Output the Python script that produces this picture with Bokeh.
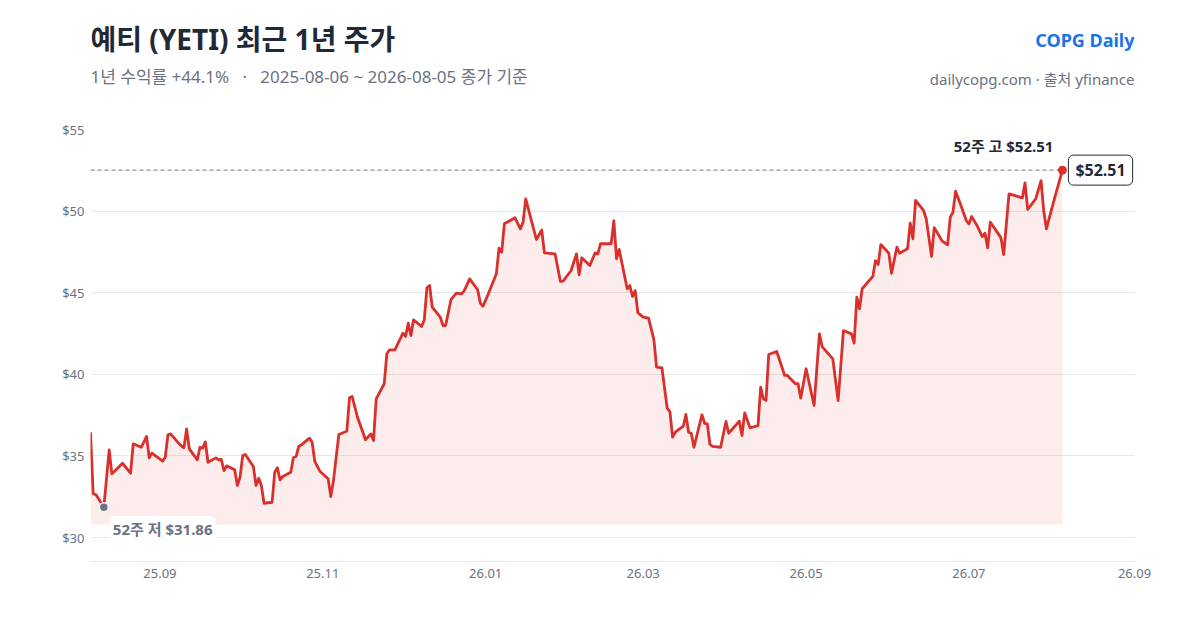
import datetime as dt
import numpy as np
from bokeh.plotting import figure
from bokeh.layouts import column
from bokeh.models import (Label, FixedTicker, DatetimeTickFormatter, Range1d,
                          ColumnDataSource, NumeralTickFormatter)
from bokeh.core.properties import value
from bokeh.embed import file_html
from bokeh.resources import INLINE

# ---------------- data ----------------
START = dt.datetime(2025, 8, 6)
day_offsets = [
    0, 1, 2, 5, 7, 8, 9, 12, 14, 15, 16, 19, 21, 22, 23, 27, 28, 29, 30, 33,
    34, 35, 36, 37, 40, 41, 42, 43, 44, 47, 48, 49, 50, 51, 54, 55, 56, 57, 58, 61,
    62, 63, 64, 65, 68, 69, 70, 71, 72, 75, 76, 77, 78, 79, 82, 83, 84, 86, 89, 90,
    91, 93, 96, 97, 98, 100, 103, 105, 106, 107, 110, 111, 112, 114, 117, 118, 119, 120, 121, 124,
    125, 126, 127, 128, 131, 132, 133, 135, 137, 139, 140, 142, 145, 146, 147, 149, 152, 153, 154, 155,
    159, 161, 162, 163, 167, 169, 170, 174, 176, 177, 180, 182, 183, 184, 187, 189, 190, 191, 195, 196,
    197, 198, 201, 202, 203, 204, 205, 207, 209, 211, 212, 214, 216, 217, 218, 219, 222, 223, 224, 225,
    226, 229, 230, 231, 232, 233, 236, 238, 239, 243, 244, 245, 247, 250, 251, 252, 253, 254, 257, 260,
    261, 264, 265, 266, 268, 271, 273, 274, 278, 280, 282, 285, 286, 287, 288, 289, 293, 294, 295, 296,
    299, 300, 302, 303, 306, 307, 308, 309, 312, 313, 315, 316, 319, 321, 322, 323, 324, 326, 328, 329,
    330, 332, 334, 335, 336, 337, 339, 341, 342, 344, 346, 349, 350, 351, 354, 356, 357, 358, 361, 364,
]
close = [
    36.44, 32.68, 32.63, 31.86, 35.37, 33.90, 34.06, 34.55, 34.15, 33.94, 35.74, 35.53, 36.19, 34.88, 35.17, 34.68, 34.92, 36.29, 36.35, 35.78,
    35.62, 35.50, 36.66, 35.43, 34.76, 35.53, 35.47, 35.86, 34.61, 34.88, 34.76, 34.78, 34.10, 34.39, 34.15, 33.19, 33.69, 35.02, 35.09, 34.35,
    33.19, 33.63, 33.19, 32.10, 32.16, 34.00, 34.27, 33.53, 33.74, 34.00, 34.90, 34.96, 35.58, 35.68, 36.09, 35.84, 34.66, 34.04, 33.60, 32.51,
    33.49, 36.31, 36.51, 38.56, 38.64, 37.37, 35.99, 36.35, 35.94, 38.50, 39.42, 41.26, 41.50, 41.50, 42.52, 42.32, 43.13, 42.38, 43.34, 42.93,
    43.34, 45.30, 45.44, 44.11, 43.50, 42.99, 42.99, 44.57, 44.97, 44.93, 45.13, 45.85, 45.18, 44.36, 44.17, 44.93, 46.16, 47.73, 47.48, 49.22,
    49.59, 48.91, 49.32, 50.75, 48.26, 48.85, 47.44, 47.38, 45.69, 45.71, 46.36, 47.38, 46.10, 47.14, 46.67, 47.44, 47.38, 48.00, 48.00, 49.42,
    47.08, 47.65, 45.24, 45.44, 44.77, 45.13, 43.77, 43.50, 43.44, 42.13, 40.44, 40.40, 37.92, 37.72, 36.15, 36.45, 36.82, 37.54, 36.45, 36.39,
    35.53, 37.52, 37.00, 36.97, 35.70, 35.58, 35.53, 37.11, 36.39, 37.13, 36.25, 37.64, 36.72, 36.86, 39.21, 38.50, 38.40, 41.21, 41.40, 39.93,
    39.93, 39.42, 39.42, 38.54, 40.34, 38.09, 42.48, 41.70, 40.95, 38.39, 42.68, 42.48, 41.91, 44.73, 44.01, 45.24, 46.00, 46.97, 46.73, 47.95,
    47.42, 46.19, 47.79, 47.42, 47.69, 49.26, 48.30, 50.65, 50.04, 49.53, 47.22, 48.98, 48.16, 47.94, 49.63, 49.93, 51.22, 50.34, 49.42, 49.22,
    49.67, 49.12, 48.44, 48.65, 47.75, 49.32, 48.85, 48.36, 47.34, 51.06, 50.96, 50.81, 51.73, 50.10, 50.75, 51.87, 50.04, 48.91, 50.75, 52.51,
]
y_ticks = [30, 35, 40, 45, 50, 55]
x_tick_dates = ["2025-09-01", "2025-11-01", "2026-01-01", "2026-03-01",
                "2026-05-01", "2026-07-01", "2026-09-01"]
X_END = "2026-09-01"
Y_START, Y_END = 28.53, 55.0
FILL_BASE = 30.8

title_text = "예티 (YETI) 최근 1년 주가"
subtitle_text = "1년 수익률 +44.1%\u00a0\u00a0\u00a0·\u00a0\u00a0\u00a02025-08-06 ~ 2026-08-05 종가 기준"
brand_text = "COPG Daily"
source_text = "dailycopg.com · 출처 yfinance"
high_label = "52주 고 $52.51"
low_label = "52주 저 $31.86"
last_label = "$52.51"

# ---------------- styling ----------------
RED = "#d9302c"
DARK = "#1f2937"
GRAY = "#6b7280"
GRID = "#e5e7eb"
BLUE = "#1a73e8"
FONT = "Noto Sans, Noto Sans CJK KR"
W, HEAD_H, MAIN_H = 1200, 110, 520
FRAME_L, FRAME_R = 90, 1134   # plot frame edges on the page (header shares them)

dates = [START + dt.timedelta(days=d) for d in day_offsets]
src = ColumnDataSource(dict(date=dates, close=close, base=[FILL_BASE] * len(close)))

def ms(s):
    return dt.datetime.strptime(s, "%Y-%m-%d").replace(tzinfo=dt.timezone.utc).timestamp() * 1000

# ---------------- header ----------------
h = figure(width=W, height=HEAD_H, x_range=Range1d(FRAME_L, FRAME_R), y_range=Range1d(HEAD_H, 0),
           min_border=0, output_backend="svg", toolbar_location=None)
h.axis.visible = False
h.grid.visible = False
h.outline_line_color = None
h.text(x=[FRAME_L], y=[38], text=[title_text], text_align="left", text_baseline="middle",
       text_font=value(FONT), text_font_size="28px", text_font_style="bold", text_color=DARK)
h.text(x=[FRAME_L], y=[76], text=[subtitle_text], text_align="left", text_baseline="middle",
       text_font=value(FONT), text_font_size="17px", text_color=GRAY)
h.text(x=[FRAME_R], y=[39], text=[brand_text], text_align="right", text_baseline="middle",
       text_font=value(FONT), text_font_size="18px", text_font_style="bold", text_color=BLUE)
h.text(x=[FRAME_R], y=[78], text=[source_text], text_align="right", text_baseline="middle",
       text_font=value(FONT), text_font_size="15px", text_color=GRAY)

# ---------------- main chart ----------------
p = figure(width=W, height=MAIN_H, x_axis_type="datetime",
           x_range=Range1d(START, dt.datetime.strptime(X_END, "%Y-%m-%d")),
           y_range=Range1d(Y_START, Y_END),
           min_border_left=FRAME_L, min_border_right=W - FRAME_R, min_border_top=19, min_border_bottom=69,
           output_backend="svg", toolbar_location=None)
p.outline_line_color = None

p.xgrid.visible = False
p.ygrid.ticker = FixedTicker(ticks=y_ticks)
p.ygrid.grid_line_color = GRID
p.ygrid.grid_line_width = 1
p.yaxis.ticker = FixedTicker(ticks=y_ticks)
p.yaxis.formatter = NumeralTickFormatter(format="$0")
p.yaxis.axis_line_color = None
p.yaxis.major_label_standoff = 6
p.xaxis.ticker = FixedTicker(ticks=[ms(s) for s in x_tick_dates])
fmt = "%y.%m"
p.xaxis.formatter = DatetimeTickFormatter(days=fmt, months=fmt, years=fmt, hours=fmt)
p.xaxis.axis_line_color = GRID
p.xaxis.major_label_standoff = 7
for ax in (p.xaxis, p.yaxis):
    ax.major_tick_line_color = None
    ax.minor_tick_line_color = None
    ax.major_tick_out = 0
    ax.major_tick_in = 0
    ax.minor_tick_out = 0
    ax.major_label_text_font = FONT
    ax.major_label_text_font_size = "13px"
    ax.major_label_text_color = GRAY

p.varea(x="date", y1="base", y2="close", source=src, fill_color=RED, fill_alpha=0.09)
p.line(x="date", y="close", source=src, line_color=RED, line_width=2.8, line_join="round")

imax = int(np.argmax(close))
imin = int(np.argmin(close))
p.segment(x0=[dates[0]], y0=[close[imax]], x1=[dates[-1]], y1=[close[imax]],
          line_color="#8b93a1", line_width=1.3, line_dash="4 3")

p.scatter([dates[imin]], [close[imin]], size=9, fill_color=GRAY, line_color="white", line_width=1.5)
p.scatter([dates[-1]], [close[-1]], size=8, fill_color=RED, line_color=RED)

p.add_layout(Label(x=dates[imax], y=close[imax], x_offset=-9, y_offset=24, text=high_label,
                   text_align="right", text_baseline="middle", text_font=FONT,
                   text_font_size="15px", text_font_style="bold", text_color=DARK))
p.add_layout(Label(x=dates[-1], y=close[-1], x_offset=6, y_offset=0, text=last_label,
                   text_align="left", text_baseline="middle", text_font=FONT,
                   text_font_size="16px", text_font_style="bold", text_color=DARK,
                   background_fill_color="white", border_line_color=DARK, border_line_width=1,
                   padding=dict(left=7, right=7, top=4, bottom=4), border_radius=5))
p.add_layout(Label(x=dates[imin], y=close[imin], x_offset=6, y_offset=-22, text=low_label,
                   text_align="left", text_baseline="middle", text_font=FONT,
                   text_font_size="15px", text_font_style="bold", text_color=GRAY,
                   background_fill_color="white", padding=3, border_radius=3))

layout = column(h, p, spacing=0)
open("out.html", "w").write(file_html(layout, INLINE))
